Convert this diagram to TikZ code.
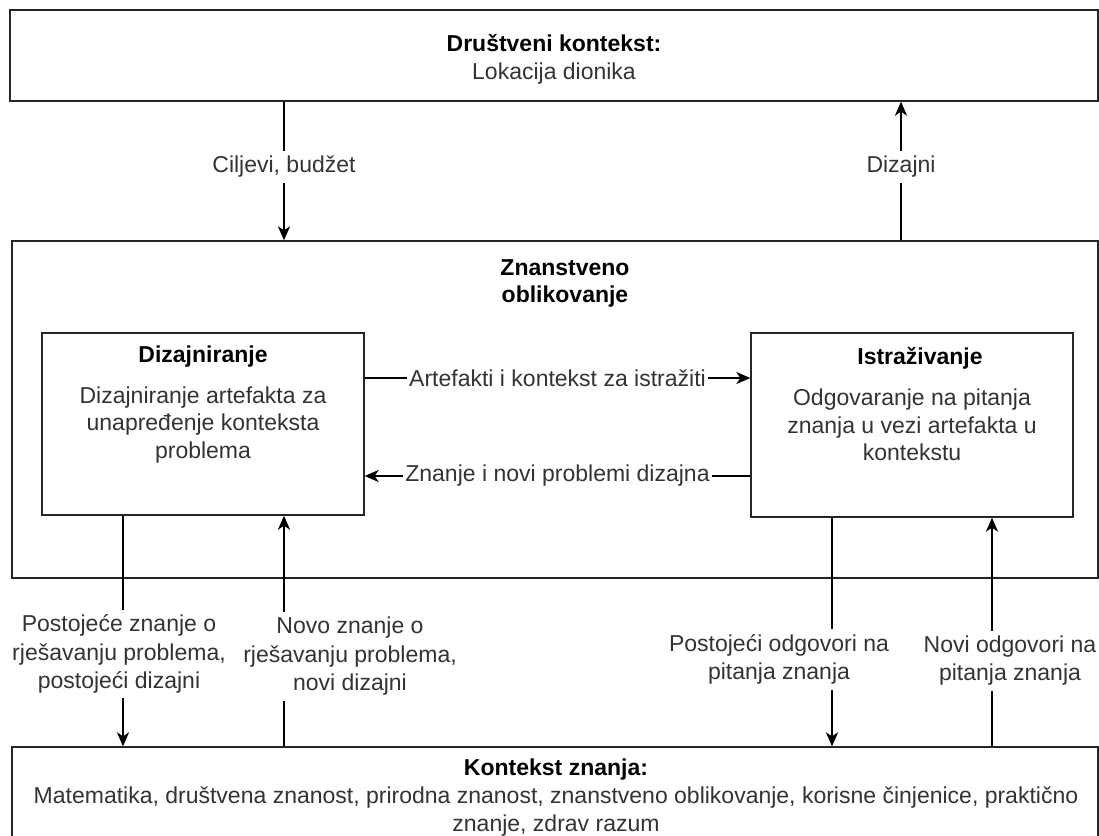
\documentclass[tikz,border=0pt]{standalone}
\usepackage{fontspec}
\setmainfont{Liberation Sans}
\usetikzlibrary{arrows.meta}
\definecolor{txtgray}{HTML}{333333}
\begin{document}
\begin{tikzpicture}[x=1pt,y=-1pt,
  box/.style={draw=black!85, line width=1.3pt, fill=white, inner sep=0pt},
  txt/.style={font=\fontsize{23}{27.6}\selectfont, text=txtgray, align=center, inner sep=0pt},
  ttl/.style={txt, text=black, font=\fontsize{23}{27.6}\selectfont\bfseries},
  lbl/.style={txt, font=\fontsize{23}{28.5}\selectfont, fill=white, inner xsep=2pt, inner ysep=5pt},
  arr/.style={line width=2.2pt, draw=black, -{Stealth[length=14pt,width=12pt,inset=4pt]}}]
\useasboundingbox (0,0) rectangle (1099,835);
% boxes
\node[box, minimum width=1088pt, minimum height=91pt] (soc) at (554,55.5) {};
\node[txt] (soct) at (554,59) {\textcolor{black}{\bfseries Društveni kontekst:}\\Lokacija dionika};
\node[box, minimum width=1086pt, minimum height=337pt] (sci) at (555,409.5) {};
\node[ttl] (scit) at (565,283.5) {Znanstveno\\oblikovanje};
\node[box, minimum width=322pt, minimum height=182pt] (diz) at (203,424) {};
\node[ttl] (dizt) at (203,357) {Dizajniranje};
\node[txt] (dizb) at (203,425) {Dizajniranje artefakta za\\unapređenje konteksta\\problema};
\node[box, minimum width=322pt, minimum height=184pt] (ist) at (912,425) {};
\node[ttl] (istt) at (920,358) {Istraživanje};
\node[txt] (istb) at (912,425) {Odgovaranje na pitanja\\znanja u vezi artefakta u\\kontekstu};
\node[box, minimum width=1086pt, minimum height=100pt] (kon) at (555,797) {};
\node[txt] (kont) at (556,797.5) {\textcolor{black}{\bfseries Kontekst znanja:}\\Matematika, društvena znanost, prirodna znanost, znanstveno oblikovanje, korisne činjenice, praktično\\znanje, zdrav razum};
% helper coordinates
\coordinate (xa) at (284,0);
\coordinate (xb) at (901,0);
\coordinate (xc) at (123,0);
\coordinate (xd) at (832,0);
\coordinate (xe) at (992,0);
\coordinate (ya) at (0,378);
\coordinate (yb) at (0,476);
% connectors
\draw[arr] (soc.south -| xa) -- node[lbl, pos=0.47]{Ciljevi, budžet} (sci.north -| xa);
\draw[arr] (sci.north -| xb) -- node[lbl, pos=0.53]{Dizajni} (soc.south -| xb);
\draw[arr] (diz.east |- ya) -- node[lbl, inner ysep=1pt]{Artefakti i kontekst za istražiti} (ist.west |- ya);
\draw[arr] (ist.west |- yb) -- node[lbl, inner ysep=1pt]{Znanje i novi problemi dizajna} (diz.east |- yb);
\draw[arr] (diz.south -| xc) -- node[lbl, pos=0.6, xshift=-4pt]{Postojeće znanje o\\rješavanju problema,\\postojeći dizajni} (kon.north -| xc);
\draw[arr] (kon.north -| xa) -- node[lbl, pos=0.39, xshift=66pt]{Novo znanje o\\rješavanju problema,\\novi dizajni} (diz.south -| xa);
\draw[arr] (ist.south -| xd) -- node[lbl, pos=0.62, xshift=-53pt]{Postojeći odgovori na\\pitanja znanja} (kon.north -| xd);
\draw[arr] (kon.north -| xe) -- node[lbl, pos=0.375, xshift=18pt]{Novi odgovori na\\pitanja znanja} (ist.south -| xe);
\end{tikzpicture}
\end{document}
